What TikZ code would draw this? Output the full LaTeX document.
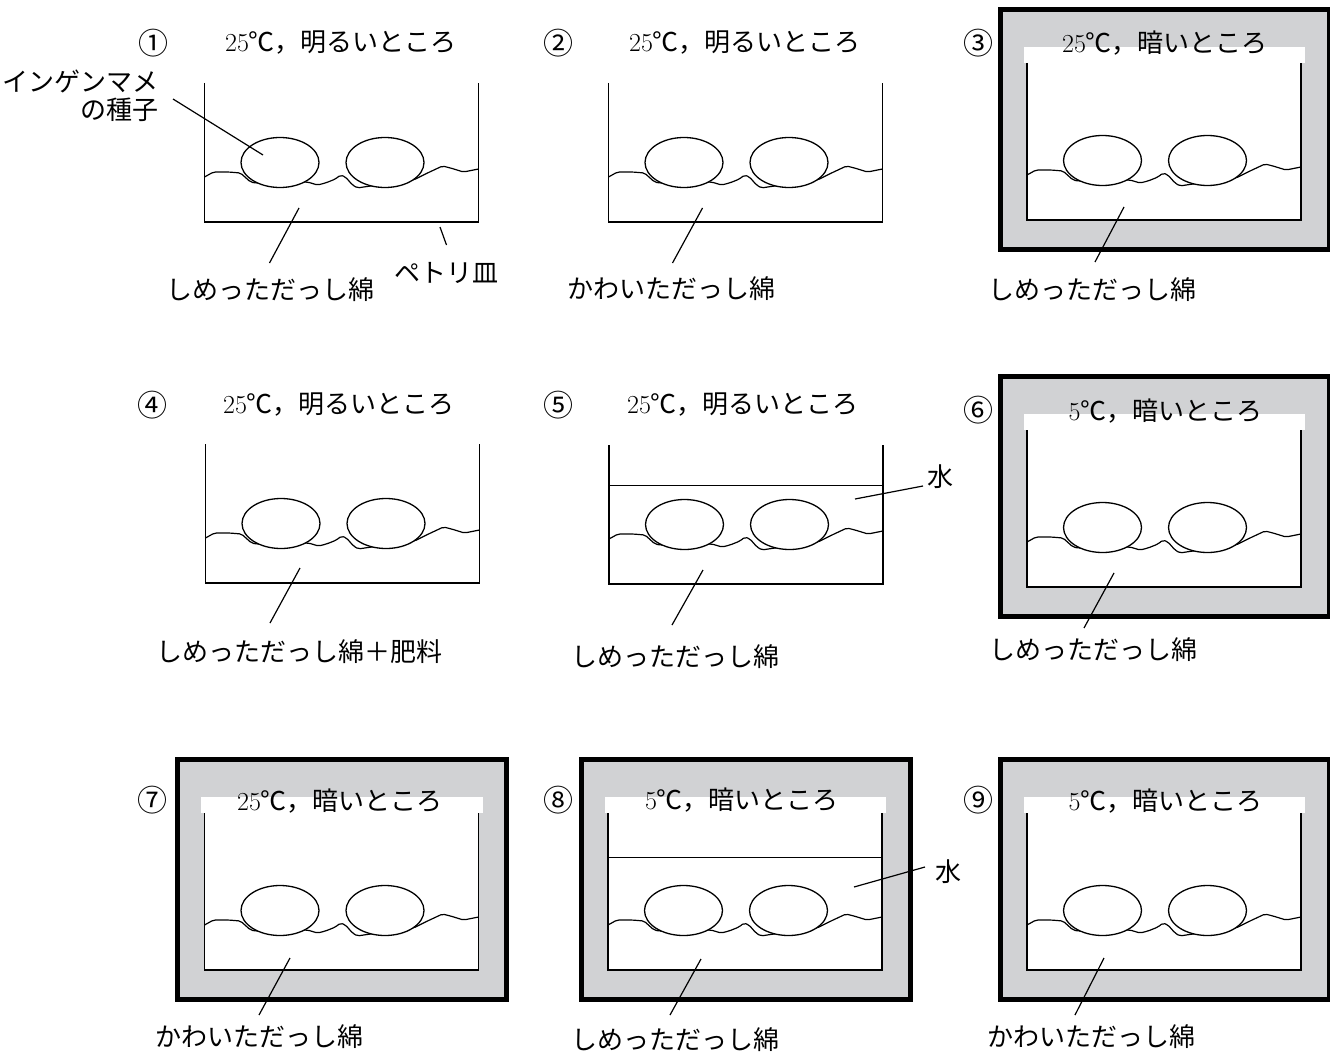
\documentclass[tikz,border=0pt]{standalone}
\usepackage{fontspec}
\usepackage{xcolor}
\newfontfamily\jp{Noto Sans CJK JP}
\usetikzlibrary{positioning, calc}

\definecolor{boxgray}{RGB}{209,210,212}

\tikzset{
  dish/.style={line width=1.4pt},
  seed/.style={line width=1.3pt, fill=white},
  cotton/.style={line width=1.2pt, rounded corners=2pt},
  leader/.style={line width=1.2pt},
  darkbox/.style={line width=5pt, fill=boxgray},
  lab/.style={font=\jp\fontsize{26pt}{28pt}\selectfont, inner sep=2pt},
  num/.style={font=\jp\fontsize{30pt}{32pt}\selectfont, inner sep=2pt},
}

% cotton surface with the two beans lying on it (dish bottom-left = origin)
\newcommand{\seedbed}{%
  \draw[cotton] (0,-45) -- (9,-50) -- (24,-50) -- (36,-49) -- (46,-40) -- (51,-39)
    -- (103,-40) -- (113,-37) -- (121,-39) -- (131,-43) -- (136,-47) -- (141,-45)
    -- (148,-37) -- (153,-34) -- (159,-35) -- (209,-42) -- (223,-49) -- (238,-56)
    -- (246,-54) -- (259,-50) -- (274,-53);
  \draw[seed] (75.5,-59.5) ellipse [x radius=39pt, y radius=25pt];
  \draw[seed] (180.5,-59.5) ellipse [x radius=39pt, y radius=25pt];
}
% petri dish in the light
\newcommand{\opendish}{%
  \draw[dish] (0,-139) -- (0,0) -- (274,0) -- (274,-139);
}
% petri dish inside the dark box
\newcommand{\darkdish}{%
  \draw[darkbox] (-27,-210.5) rectangle (302,29);
  \fill[white] (-3.5,-173) rectangle (278,-157);
  \fill[white] (0,-157) rectangle (274,0);
  \draw[dish] (0,-157) -- (0,0) -- (274,0) -- (274,-157);
}

\begin{document}
\begin{tikzpicture}[x=1pt, y=-1pt]
    \useasboundingbox (0,0) rectangle (1330,1054);

    % Row 1
    \begin{scope}[shift={(204.5,222)}]
        \opendish
        \seedbed
    \end{scope}
    \begin{scope}[shift={(608.5,222)}]
        \opendish
        \seedbed
    \end{scope}
    \begin{scope}[shift={(1027,220)}]
        \darkdish
        \seedbed
    \end{scope}

    % Row 2
    \begin{scope}[shift={(205.5,583)}]
        \opendish
        \seedbed
    \end{scope}
    \begin{scope}[shift={(609,584)}]
        \opendish
        \draw[dish] (0,-98.7) -- (274,-98.7);
        \seedbed
    \end{scope}
    \begin{scope}[shift={(1027,587)}]
        \darkdish
        \seedbed
    \end{scope}

    % Row 3
    \begin{scope}[shift={(204.5,970)}]
        \darkdish
        \seedbed
    \end{scope}
    \begin{scope}[shift={(608,970)}]
        \darkdish
        \draw[dish] (0,-112.3) -- (274,-112.3);
        \seedbed
    \end{scope}
    \begin{scope}[shift={(1027,970)}]
        \darkdish
        \seedbed
    \end{scope}

    % Numbers and conditions
    \node[num] (n1) at (153,43) {①};
    \node[lab] (t1) at (341,43) {{\rmfamily 25}℃，明るいところ};
    \node[num] (n2) at (558,43) {②};
    \node[lab] (t2) at (745,43) {{\rmfamily 25}℃，明るいところ};
    \node[num] (n3) at (978,43) {③};
    \node[lab] (t3) at (1165,43) {{\rmfamily 25}℃，暗いところ};
    \node[num] (n4) at (152,405) {④};
    \node[lab] (t4) at (339,405) {{\rmfamily 25}℃，明るいところ};
    \node[num] (n5) at (558,405) {⑤};
    \node[lab] (t5) at (743,405) {{\rmfamily 25}℃，明るいところ};
    \node[num] (n6) at (978,410) {⑥};
    \node[lab] (t6) at (1165.5,411) {{\rmfamily 5}℃，暗いところ};
    \node[num] (n7) at (152,800) {⑦};
    \node[lab] (t7) at (340,801) {{\rmfamily 25}℃，暗いところ};
    \node[num] (n8) at (558,800) {⑧};
    \node[lab] (t8) at (742,800) {{\rmfamily 5}℃，暗いところ};
    \node[num] (n9) at (978,800) {⑨};
    \node[lab] (t9) at (1165.5,801) {{\rmfamily 5}℃，暗いところ};

    % Seed and dish labels
    \node[lab, align=right, anchor=east] (bean) at (161,96) {インゲンマメ\\の種子};
    \coordinate (bean-a) at (173,99);
    \coordinate (bean-b) at (263,155);
    \draw[leader] (bean-a) -- (bean-b);

    \node[lab] (petri) at (446.5,273) {ペトリ皿};
    \coordinate (petri-a) at (440,227);
    \coordinate (petri-b) at (446.5,245);
    \draw[leader] (petri-a) -- (petri-b);

    % Water labels
    \node[lab] (water5) at (940,477) {水};
    \coordinate (w5a) at (855,499);
    \coordinate (w5b) at (923,486);
    \draw[leader] (w5a) -- (w5b);

    \node[lab] (water8) at (948,872) {水};
    \coordinate (w8a) at (854,887);
    \coordinate (w8b) at (925,867);
    \draw[leader] (w8a) -- (w8b);

    % Cotton labels
    \node[lab] (cot1) at (270,290) {しめっただっし綿};
    \coordinate (c1a) at (299,208);
    \coordinate (c1b) at (269.5,263);
    \draw[leader] (c1a) -- (c1b);

    \node[lab] (cot2) at (671,289) {かわいただっし綿};
    \coordinate (c2a) at (702.5,208);
    \coordinate (c2b) at (672.5,263);
    \draw[leader] (c2a) -- (c2b);

    \node[lab] (cot3) at (1092,290) {しめっただっし綿};
    \coordinate (c3a) at (1124,207);
    \coordinate (c3b) at (1095,262);
    \draw[leader] (c3a) -- (c3b);

    \node[lab] (cot4) at (299,652) {しめっただっし綿＋肥料};
    \coordinate (c4a) at (300,568);
    \coordinate (c4b) at (270,623);
    \draw[leader] (c4a) -- (c4b);

    \node[lab] (cot5) at (675,657) {しめっただっし綿};
    \coordinate (c5a) at (703,570);
    \coordinate (c5b) at (672,625);
    \draw[leader] (c5a) -- (c5b);

    \node[lab] (cot6) at (1093,650) {しめっただっし綿};
    \coordinate (c6a) at (1114,573);
    \coordinate (c6b) at (1084,628);
    \draw[leader] (c6a) -- (c6b);

    \node[lab] (cot7) at (259,1037) {かわいただっし綿};
    \coordinate (c7a) at (290,958);
    \coordinate (c7b) at (259,1015);
    \draw[leader] (c7a) -- (c7b);

    \node[lab] (cot8) at (675,1040) {しめっただっし綿};
    \coordinate (c8a) at (701,959);
    \coordinate (c8b) at (670,1015);
    \draw[leader] (c8a) -- (c8b);

    \node[lab] (cot9) at (1091,1037) {かわいただっし綿};
    \coordinate (c9a) at (1104,958);
    \coordinate (c9b) at (1075,1015);
    \draw[leader] (c9a) -- (c9b);
\end{tikzpicture}
\end{document}
